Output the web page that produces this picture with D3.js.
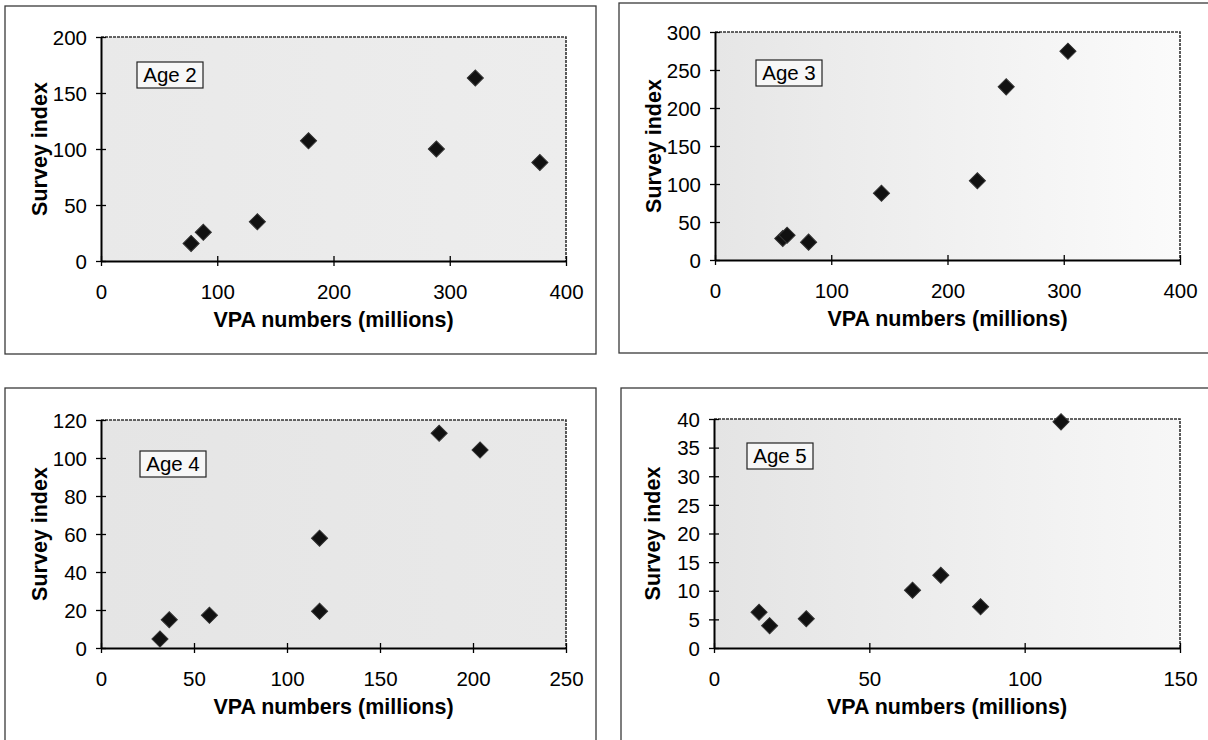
<!DOCTYPE html>
<html>
<head>
<meta charset="utf-8">
<script src="https://cdn.jsdelivr.net/npm/d3@7"></script>
<style>
body { margin: 0; background: #fff; }
svg { display: block; font-family: "Liberation Sans", Arial, sans-serif; }
</style>
</head>
<body>
<svg id="chart" width="1208" height="740"></svg>
<script>
// VPA numbers (millions) against survey index, one panel per age
var age2X = [77.5, 88, 134.5, 178.5, 288.5, 322, 377.5];
var age2Y = [15.7, 25.6, 35, 107.3, 100, 163.4, 88];
var age3X = [58.3, 62, 80.5, 143.2, 225.7, 250.5, 303.6];
var age3Y = [28.3, 32.6, 23.5, 87.8, 104.3, 227.8, 274.8];
var age4X = [31.7, 36.7, 58.3, 117.5, 117.5, 181.8, 203.8];
var age4Y = [4.7, 14.9, 17.2, 19.3, 57.8, 113, 104.2];
var age5X = [14.5, 17.9, 29.7, 63.9, 73, 85.8, 111.7];
var age5Y = [6.25, 3.9, 5.1, 10.1, 12.7, 7.2, 39.5];

var ageLabels = ["Age 2", "Age 3", "Age 4", "Age 5"];
var xMax = [400, 400, 250, 150];
var xStep = [100, 100, 50, 50];
var yMax = [200, 300, 120, 40];
var yStep = [50, 50, 20, 5];

var xTitle = "VPA numbers (millions)";
var yTitle = "Survey index";

var seriesX = [age2X, age3X, age4X, age5X];
var seriesY = [age2Y, age3Y, age4Y, age5Y];

// page layout: outer frame, plot area, label offset, background shade
var layout = [
    {frame: [5, 6, 591, 348], plot: [101, 37, 465, 224], label: [36, 25], shade: ["#e9e9e9", "#ededed"]},
    {frame: [619, 3, 600, 350], plot: [715, 32, 465, 228], label: [41, 28], shade: ["#e6e6e6", "#fbfbfb"]},
    {frame: [5, 388, 591, 370], plot: [101, 420, 465, 228], label: [39, 31], shade: ["#e5e5e5", "#e9e9e9"]},
    {frame: [621, 388, 600, 370], plot: [714, 419, 466, 229], label: [33, 24], shade: ["#e4e4e4", "#f7f7f7"]}
];

var svg = d3.select("#chart");
var defs = svg.append("defs");

function drawPanel(i) {
    var L = layout[i];
    var px = L.plot[0], py = L.plot[1], pw = L.plot[2], ph = L.plot[3];

    // outer frame of the chart object
    svg.append("rect")
        .attr("x", L.frame[0]).attr("y", L.frame[1])
        .attr("width", L.frame[2]).attr("height", L.frame[3])
        .attr("fill", "none")
        .attr("stroke", "#3a3a3a")
        .attr("stroke-width", 1.3);

    var x = d3.scaleLinear().domain([0, xMax[i]]).range([0, pw]);
    var y = d3.scaleLinear().domain([0, yMax[i]]).range([ph, 0]);

    var grad = defs.append("linearGradient").attr("id", "shade" + i);
    grad.append("stop").attr("offset", "0%").attr("stop-color", L.shade[0]);
    grad.append("stop").attr("offset", "100%").attr("stop-color", L.shade[1]);

    var g = svg.append("g").attr("transform", "translate(" + px + "," + py + ")");

    g.append("rect")
        .attr("width", pw).attr("height", ph)
        .attr("fill", "url(#shade" + i + ")");

    // top and right edges of the plot area
    g.append("path")
        .attr("d", "M0,0H" + pw + "V" + ph)
        .attr("fill", "none")
        .attr("stroke", "#333")
        .attr("stroke-width", 1.6)
        .attr("stroke-dasharray", "3,1");

    // Add the X Axis
    var xAxis = g.append("g")
        .attr("transform", "translate(0," + ph + ")")
        .call(d3.axisBottom(x)
            .tickValues(d3.range(0, xMax[i] + 1, xStep[i]))
            .tickSize(0).tickSizeOuter(0));
    // Add the Y Axis
    var yAxis = g.append("g")
        .call(d3.axisLeft(y)
            .tickValues(d3.range(0, yMax[i] + 1, yStep[i]))
            .tickSize(0).tickSizeOuter(0));

    [xAxis, yAxis].forEach(function(a) {
        a.select(".domain").attr("stroke", "#000").attr("stroke-width", 2);
        a.selectAll(".tick line").attr("stroke", "#000").attr("stroke-width", 1.3);
        a.selectAll("text")
            .attr("fill", "#000")
            .attr("font-size", 20.5)
            .attr("font-family", null);
    });
    xAxis.selectAll(".tick line").attr("y1", -5).attr("y2", 5);
    xAxis.selectAll("text").attr("y", 31).attr("dy", "0.35em");
    yAxis.selectAll(".tick line").attr("x1", -5).attr("x2", 5);
    yAxis.selectAll("text").attr("x", -14).attr("dy", "0.35em");

    // axis titles
    g.append("text")
        .attr("x", pw / 2).attr("y", ph + 58).attr("dy", "0.35em")
        .attr("text-anchor", "middle")
        .attr("font-size", 21.5).attr("font-weight", "bold")
        .text(xTitle);
    g.append("text")
        .attr("transform", "translate(-62," + (ph / 2) + ") rotate(-90)")
        .attr("dy", "0.35em")
        .attr("text-anchor", "middle")
        .attr("font-size", 21.5).attr("font-weight", "bold")
        .text(yTitle);

    // age label box
    var lab = g.append("g").attr("transform", "translate(" + L.label[0] + "," + L.label[1] + ")");
    lab.append("rect")
        .attr("width", 66).attr("height", 26)
        .attr("fill", "#f7f7f7")
        .attr("stroke", "#222").attr("stroke-width", 1.2);
    lab.append("text")
        .attr("x", 33).attr("y", 13).attr("dy", "0.35em")
        .attr("text-anchor", "middle")
        .attr("font-size", 20.5)
        .text(ageLabels[i]);

    // points
    var pts = seriesX[i].map(function(v, k) { return {x: v, y: seriesY[i][k]}; });
    g.selectAll(".pt")
        .data(pts)
        .enter()
        .append("path")
        .attr("class", "pt")
        .attr("transform", function(d) { return "translate(" + x(d.x) + "," + y(d.y) + ") rotate(45)"; })
        .attr("d", d3.symbol(d3.symbolSquare, 130))
        .attr("fill", "#111")
        .attr("stroke", "#333")
        .attr("stroke-width", 1);
}

for (var i = 0; i < 4; i++) drawPanel(i);
</script>
</body>
</html>
